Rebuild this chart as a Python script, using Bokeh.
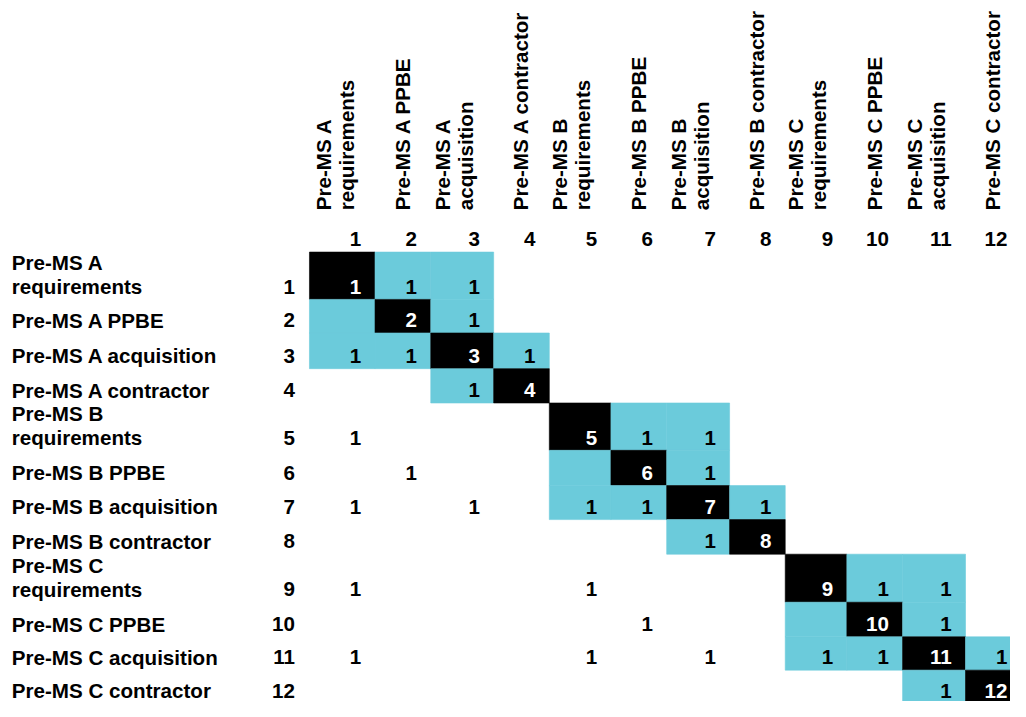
import math
from bokeh.plotting import figure
from bokeh.models import ColumnDataSource, Range1d
from bokeh.core.properties import value
from bokeh.embed import file_html
from bokeh.resources import INLINE

# ---------------- data ----------------
activities = [
    "Pre-MS A requirements", "Pre-MS A PPBE", "Pre-MS A acquisition", "Pre-MS A contractor",
    "Pre-MS B requirements", "Pre-MS B PPBE", "Pre-MS B acquisition", "Pre-MS B contractor",
    "Pre-MS C requirements", "Pre-MS C PPBE", "Pre-MS C acquisition", "Pre-MS C contractor",
]
row_labels = [
    "Pre-MS A\nrequirements", "Pre-MS A PPBE", "Pre-MS A acquisition", "Pre-MS A contractor",
    "Pre-MS B\nrequirements", "Pre-MS B PPBE", "Pre-MS B acquisition", "Pre-MS B contractor",
    "Pre-MS C\nrequirements", "Pre-MS C PPBE", "Pre-MS C acquisition", "Pre-MS C contractor",
]
col_labels = [
    "Pre-MS A\nrequirements", "Pre-MS A PPBE", "Pre-MS A\nacquisition", "Pre-MS A contractor",
    "Pre-MS B\nrequirements", "Pre-MS B PPBE", "Pre-MS B\nacquisition", "Pre-MS B contractor",
    "Pre-MS C\nrequirements", "Pre-MS C PPBE", "Pre-MS C\nacquisition", "Pre-MS C contractor",
]
indices = [str(k) for k in range(1, 13)]

dsm = [
    [0, 1, 1, 0, 0, 0, 0, 0, 0, 0, 0, 0],
    [0, 0, 1, 0, 0, 0, 0, 0, 0, 0, 0, 0],
    [1, 1, 0, 1, 0, 0, 0, 0, 0, 0, 0, 0],
    [0, 0, 1, 0, 0, 0, 0, 0, 0, 0, 0, 0],
    [1, 0, 0, 0, 0, 1, 1, 0, 0, 0, 0, 0],
    [0, 1, 0, 0, 0, 0, 1, 0, 0, 0, 0, 0],
    [1, 0, 1, 0, 1, 1, 0, 1, 0, 0, 0, 0],
    [0, 0, 0, 0, 0, 0, 1, 0, 0, 0, 0, 0],
    [1, 0, 0, 0, 1, 0, 0, 0, 0, 1, 1, 0],
    [0, 0, 0, 0, 0, 1, 0, 0, 0, 0, 1, 0],
    [1, 0, 0, 0, 1, 0, 1, 0, 1, 1, 0, 1],
    [0, 0, 0, 0, 0, 0, 0, 0, 0, 0, 1, 0],
]
clusters = [[1, 2, 3], [5, 6, 7], [9, 10, 11]]
cluster_links = [(3, 4), (7, 8), (11, 12)]

# ---------------- layout ----------------
W, H = 1010, 701
SX, SY = 0.983, 0.98           # slight shrink so that everything fits the window
grid_left = 314.3
grid_top = 256.7
col_widths = [66.7, 56.7, 64.0, 56.6, 62.7, 56.7, 64.0, 56.6, 62.7, 56.7, 64.0, 56.6]
row_heights = [48.3, 34.3, 36.4, 35.0, 48.3, 36.0, 34.7, 35.3, 49.0, 35.3, 34.0, 34.0]
FONT = value("Liberation Sans")
FSPX = 20.6
FS = f"{FSPX}px"
BL = 0.38 * FSPX                # baseline compensation
CYAN = "#6BCBDB"

n = len(activities)
col_left, col_right = [], []
x = grid_left
for w in col_widths:
    col_left.append(x); x += w; col_right.append(x)
row_top, row_bot = [], []
y = grid_top
for h in row_heights:
    row_top.append(y); y += h; row_bot.append(y)

def X(px):
    return px * SX

def Y(py):
    return H - py * SY

def YB(py):  # text baseline at screen y py
    return H - (py * SY - BL)

shaded = set()
for c in clusters:
    for a in c:
        for b in c:
            shaded.add((a - 1, b - 1))
for a, b in cluster_links:
    shaded.add((a - 1, b - 1)); shaded.add((b - 1, a - 1))

p = figure(width=W, height=H, x_range=Range1d(0, W), y_range=Range1d(0, H),
           output_backend="svg", toolbar_location=None, min_border=0,
           x_axis_type=None, y_axis_type=None)
p.grid.visible = False
p.outline_line_color = None

# cells
cl, cr, ct, cb, cc = [], [], [], [], []
for i in range(n):
    for j in range(n):
        if i == j:
            color = "#000000"
        elif (i, j) in shaded:
            color = CYAN
        else:
            continue
        cl.append(X(col_left[j])); cr.append(X(col_right[j]))
        ct.append(Y(row_top[i])); cb.append(Y(row_bot[i])); cc.append(color)
p.quad(left="left", right="right", top="top", bottom="bottom", fill_color="color",
       line_color="color", line_width=0.6,
       source=ColumnDataSource(dict(left=cl, right=cr, top=ct, bottom=cb, color=cc)))

txt = dict(text_font=FONT, text_font_style="bold", text_font_size=FS,
           text_baseline="alphabetic")

# cell values
tx, ty, tt, tc = [], [], [], []
for i in range(n):
    for j in range(n):
        if i == j:
            tx.append(X(col_right[j] - 14)); ty.append(YB(row_bot[i] - 5))
            tt.append(indices[i]); tc.append("#FFFFFF")
        elif dsm[i][j]:
            tx.append(X(col_right[j] - 14)); ty.append(YB(row_bot[i] - 5))
            tt.append(str(dsm[i][j])); tc.append("#000000")
p.text(x="x", y="y", text="text", text_color="color", text_align="right",
       source=ColumnDataSource(dict(x=tx, y=ty, text=tt, color=tc)), **txt)

# column index numbers
p.text(x=[X(r - 14) for r in col_right], y=[YB(251)] * n, text=indices,
       text_align="right", text_color="#000000", **txt)

# row index numbers
p.text(x=[X(299.5)] * n, y=[YB(b - 5) for b in row_bot], text=indices,
       text_align="right", text_color="#000000", **txt)

# row labels (bottom aligned, line by line)
lx, ly, lt = [], [], []
for i, lab in enumerate(row_labels):
    lines = lab.split("\n")
    for k, line in enumerate(lines):
        lx.append(X(11.5))
        ly.append(YB(row_bot[i] - 5 - 24.5 * (len(lines) - 1 - k)))
        lt.append(line)
p.text(x="x", y="y", text="text", text_align="left", text_color="#000000",
       source=ColumnDataSource(dict(x=lx, y=ly, text=lt)), **txt)

# column labels (rotated, reading upward)
hx, hy, ht = [], [], []
for j, lab in enumerate(col_labels):
    lines = lab.split("\n")
    for k, line in enumerate(lines):
        hx.append(X(col_right[j] - 21 - 23 * (len(lines) - 1 - k)) - BL)
        hy.append(Y(214))
        ht.append(line)
p.text(x="x", y="y", text="text", angle=math.pi / 2, text_align="left",
       text_color="#000000", source=ColumnDataSource(dict(x=hx, y=hy, text=ht)), **txt)

open("out.html", "w").write(file_html(p, INLINE))
